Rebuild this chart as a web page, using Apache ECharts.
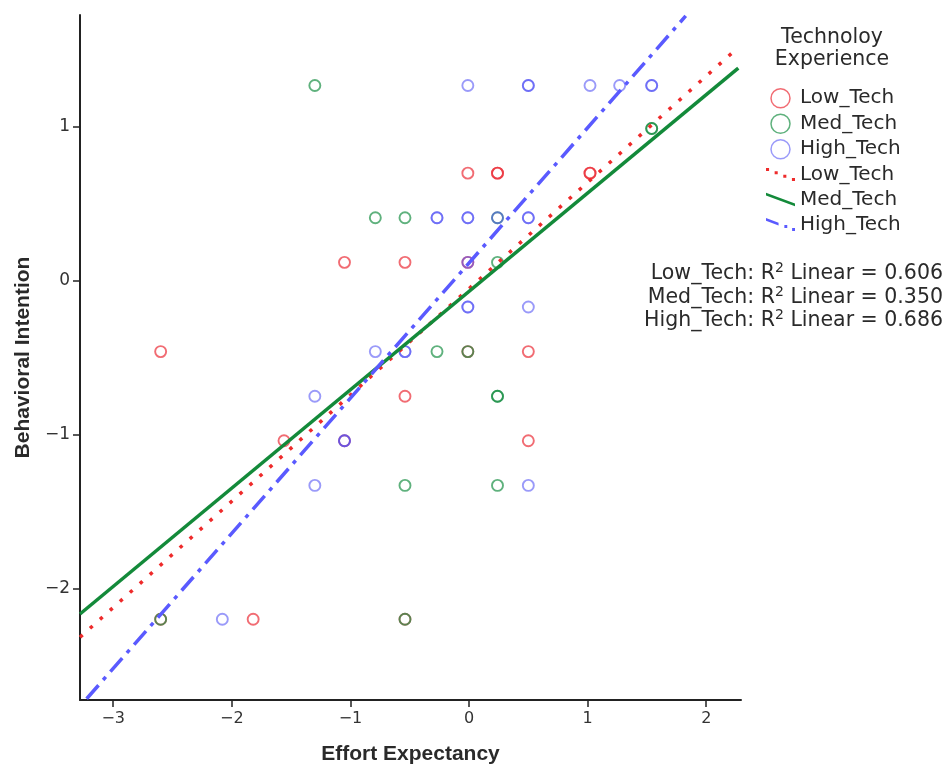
<!DOCTYPE html>
<html><head><meta charset="utf-8">
<script src="https://cdn.jsdelivr.net/npm/echarts@6/dist/echarts.min.js"></script>
<style>html,body{margin:0;padding:0;background:#fff}#c{width:948px;height:770px}</style>
</head><body><div id="c"></div>
<script>
// ---- data ----
const groupNames = ['Low_Tech', 'Med_Tech', 'High_Tech'];
const legendTitle = 'Technoloy\nExperience';
const xTitle = 'Effort Expectancy';
const yTitle = 'Behavioral Intention';
const xTicks = [-3, -2, -1, 0, 1, 2];
const yTicks = [-2, -1, 0, 1];
const xRange = [-3.28, 2.293];
const yRange = [-2.725, 1.728];

const lowX = [-0.01, 0.24, 0.24, 1.02, 1.02, -1.05, -0.54, -0.01, -2.60, -0.01, 0.50, -0.54, -1.56, -1.05, 0.50, -1.82, -0.54, -2.60];
const lowY = [0.70, 0.70, 0.70, 0.70, 0.70, 0.12, 0.12, 0.12, -0.46, -0.46, -0.46, -0.75, -1.04, -1.04, -1.04, -2.20, -2.20, -2.20];

const medX = [-1.30, 1.54, 1.54, -0.79, -0.54, 0.24, 0.24, -0.27, -0.01, 0.24, 0.24, -0.54, 0.24, -2.60, -0.54];
const medY = [1.27, 0.99, 0.99, 0.41, 0.41, 0.41, 0.12, -0.46, -0.46, -0.75, -0.75, -1.33, -1.33, -2.20, -2.20];

const highX = [-0.01, 0.50, 0.50, 1.02, 1.27, 1.54, 1.54, -0.27, -0.27, -0.01, -0.01, 0.24, 0.50, 0.50, -0.01, -0.01, -0.01, 0.50, -0.79, -0.54, -0.54, -1.30, -1.05, -1.05, -1.30, 0.50, -2.08];
const highY = [1.27, 1.27, 1.27, 1.27, 1.27, 1.27, 1.27, 0.41, 0.41, 0.41, 0.41, 0.41, 0.41, 0.41, 0.12, -0.17, -0.17, -0.17, -0.46, -0.46, -0.46, -0.75, -1.04, -1.04, -1.33, -1.33, -2.20];

// fit-line end points
const lowFitX = [-3.28, 2.23];
const lowFitY = [-2.317, 1.49];
const medFitX = [-3.28, 2.27];
const medFitY = [-2.166, 1.383];
const highFitX = [-3.224, 1.827];
const highFitY = [-2.717, 1.722];

const rSquared = [0.606, 0.350, 0.686];

// ---- styling ----
const pointColors = ['rgba(235,40,50,0.85)', 'rgba(20,140,65,0.85)', 'rgba(80,80,245,0.72)'];
const lineColors = ['#ee2b2b', '#138a3a', '#5a5aff'];
const textColor = '#2a2a2a';

function pairs(xs, ys) { return xs.map((x, i) => [x, ys[i]]); }
const pts = [pairs(lowX, lowY), pairs(medX, medY), pairs(highX, highY)];
const fits = [pairs(lowFitX, lowFitY), pairs(medFitX, medFitY), pairs(highFitX, highFitY)];
const lineTypes = [[3.5, 9.9], 'solid', [18, 7, 4, 7]];

const series = [];
groupNames.forEach((n, i) => {
  series.push({
    name: n, type: 'scatter', data: pts[i], symbol: 'circle', symbolSize: 11,
    itemStyle: { color: 'rgba(0,0,0,0)', borderColor: pointColors[i], borderWidth: 1.9 },
    emphasis: { disabled: true }, z: 2
  });
});
groupNames.forEach((n, i) => {
  series.push({
    name: n + ' ', type: 'line', data: fits[i], showSymbol: false, symbol: 'none',
    lineStyle: { color: lineColors[i], width: 3.5, type: lineTypes[i], cap: 'butt' },
    itemStyle: { color: lineColors[i] },
    emphasis: { disabled: true }, z: 3, clip: true
  });
});

const iconDotted = 'path://M0,0h3.2v3.2h-3.2z M9,3.5h3.2v3.2h-3.2z M18,7h3.2v3.2h-3.2z M27,10.5h3.2v3.2h-3.2z';
const iconSolid = 'path://M0,0 L30,11.2 L30,14 L0,2.8 Z';
const iconDashDot = 'path://M0,0 L13,4.9 L13,7.7 L0,2.8 Z M19,7.2h3v3h-3z M27,10.4h3v3h-3z';
const lineIcons = [iconDotted, iconSolid, iconDashDot];

const legendData = [];
groupNames.forEach((n, i) => legendData.push({
  name: n, icon: 'circle',
  itemStyle: { color: 'rgba(0,0,0,0)', borderColor: pointColors[i], borderWidth: 1.5 }
}));
groupNames.forEach((n, i) => legendData.push({
  name: n + ' ', icon: lineIcons[i],
  itemStyle: { color: lineColors[i], borderWidth: 0 }
}));

const fmtTick = v => String(v).replace('-', '\u2212');

const graphics = [{
  type: 'text', x: 832, y: 27,
  style: { text: legendTitle, align: 'center', verticalAlign: 'top', font: '20.5px "DejaVu Sans"', fill: textColor, lineHeight: 22 }
}];
groupNames.forEach((n, i) => graphics.push({
  type: 'text', x: 943, y: 273 + i * 23.5,
  style: {
    text: '{a|' + n + ': R}{s|2}{a| Linear = ' + rSquared[i].toFixed(3) + '}',
    align: 'right', verticalAlign: 'middle',
    rich: {
      a: { fontFamily: 'DejaVu Sans', fontSize: 20.5, fill: textColor, lineHeight: 23, verticalAlign: 'bottom' },
      s: { fontFamily: 'DejaVu Sans', fontSize: 14, fill: textColor, lineHeight: 23, verticalAlign: 'top' }
    }
  }
}));

const chart = echarts.init(document.getElementById('c'), null, { renderer: 'canvas' });
chart.setOption({
  animation: false,
  backgroundColor: '#fff',
  grid: { left: 80, top: 15, width: 661, height: 688, containLabel: false },
  xAxis: {
    type: 'value', min: xRange[0], max: xRange[1],
    name: xTitle, nameLocation: 'middle', nameGap: 44,
    nameTextStyle: { fontFamily: 'Liberation Sans', fontWeight: 'bold', fontSize: 21, color: textColor },
    axisLine: { show: true, onZero: false, lineStyle: { color: '#222', width: 2 } },
    axisTick: { show: true, inside: false, length: 7, customValues: xTicks, lineStyle: { color: '#222', width: 1.5 } },
    axisLabel: { customValues: xTicks, formatter: fmtTick, fontFamily: 'DejaVu Sans', fontSize: 16, color: '#333', margin: 11 },
    splitLine: { show: false }
  },
  yAxis: {
    type: 'value', min: yRange[0], max: yRange[1],
    name: yTitle, nameLocation: 'middle', nameGap: 46, nameRotate: 90,
    nameTextStyle: { fontFamily: 'Liberation Sans', fontWeight: 'bold', fontSize: 21, color: textColor },
    axisLine: { show: true, onZero: false, lineStyle: { color: '#222', width: 2 } },
    axisTick: { show: true, inside: false, length: 7, customValues: yTicks, lineStyle: { color: '#222', width: 1.5 } },
    axisLabel: { customValues: yTicks, formatter: fmtTick, fontFamily: 'DejaVu Sans', fontSize: 17, color: '#333', margin: 10 },
    splitLine: { show: false }
  },
  legend: {
    show: true, orient: 'vertical', left: 761, top: 83,
    itemWidth: 29, itemHeight: 19, itemGap: 5,
    selectedMode: false,
    formatter: n => n.trim(),
    textStyle: { fontFamily: 'DejaVu Sans', fontSize: 20, color: textColor, lineHeight: 20 },
    data: legendData
  },
  graphic: graphics,
  series: series
});
</script></body></html>
